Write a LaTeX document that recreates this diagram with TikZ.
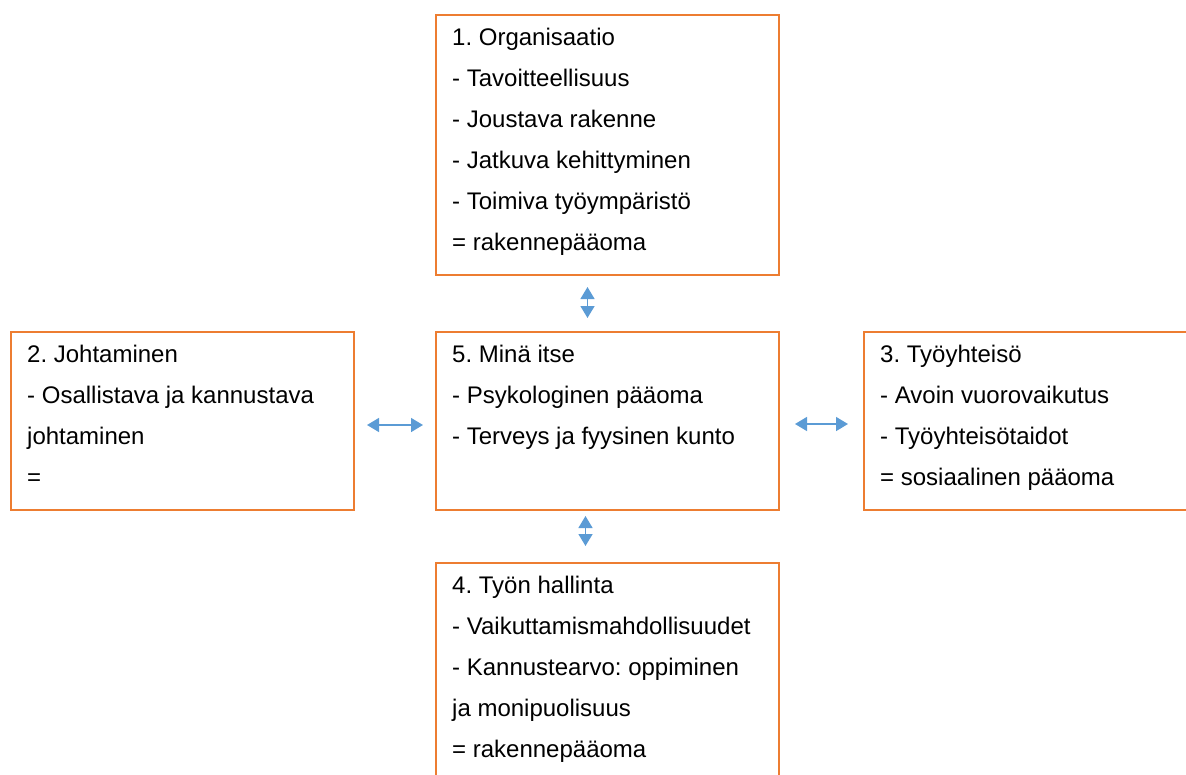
\documentclass[tikz,border=0pt]{standalone}
\usepackage{fontspec}
\setmainfont{Liberation Sans}
\usetikzlibrary{arrows.meta}
\definecolor{boxorange}{HTML}{ED7D31}
\definecolor{arrowblue}{HTML}{5B9BD5}
\frenchspacing
\begin{document}
\begin{tikzpicture}[x=1pt,y=1pt,
    box/.style={draw=boxorange, line width=2pt, rectangle, inner sep=0pt, anchor=north west},
    txt/.style={anchor=north west, align=left, inner sep=0pt, font=\fontsize{24}{41}\selectfont},
    link/.style={draw=arrowblue, line width=1.5pt, {Triangle[length=12pt,width=14pt]}-{Triangle[length=12pt,width=14pt]}}]
    \useasboundingbox (0,0) rectangle (1186,-774);
    \clip (0,0) rectangle (1186,-774);
    \node[box, minimum width=343, minimum height=260] (org) at (435,-14) {};
    \node[txt] (orgtxt) at ([shift={(17,-11)}]org.north west) {\rule{0pt}{20pt}1. Organisaatio\\- Tavoitteellisuus\\- Joustava rakenne\\- Jatkuva kehittyminen\\- Toimiva työympäristö\\= rakennepääoma};
    \node[box, minimum width=343, minimum height=178] (joht) at (10,-331) {};
    \node[txt] (johttxt) at ([shift={(17,-11)}]joht.north west) {\rule{0pt}{20pt}2. Johtaminen\\- Osallistava ja kannustava\\johtaminen\\=};
    \node[box, minimum width=343, minimum height=178] (mina) at (435,-331) {};
    \node[txt] (minatxt) at ([shift={(17,-11)}]mina.north west) {\rule{0pt}{20pt}5. Minä itse\\- Psykologinen pääoma\\- Terveys ja fyysinen kunto};
    \node[box, minimum width=350, minimum height=178] (yht) at (863,-331) {};
    \node[txt] (yhttxt) at ([shift={(17,-11)}]yht.north west) {\rule{0pt}{20pt}3. Työyhteisö\\- Avoin vuorovaikutus\\- Työyhteisötaidot\\= sosiaalinen pääoma};
    \node[box, minimum width=343, minimum height=240] (hall) at (435,-562) {};
    \node[txt] (halltxt) at ([shift={(17,-11)}]hall.north west) {\rule{0pt}{20pt}4. Työn hallinta\\- Vaikuttamismahdollisuudet\\- Kannustearvo: oppiminen\\ja monipuolisuus\\= rakennepääoma};
    \draw[link, shorten <=11pt, shorten >=13pt] ([xshift=-20pt]org.south) -- ([xshift=-20pt]mina.north);
    \draw[link, shorten <=12pt, shorten >=12pt] ([yshift=-4pt]joht.east) -- ([yshift=-4pt]mina.west);
    \draw[link, shorten <=15pt, shorten >=15pt] ([yshift=-3pt]mina.east) -- ([yshift=-3pt]yht.west);
    \draw[link, shorten <=5pt, shorten >=16pt] ([xshift=-22pt]mina.south) -- ([xshift=-22pt]hall.north);
\end{tikzpicture}
\end{document}
